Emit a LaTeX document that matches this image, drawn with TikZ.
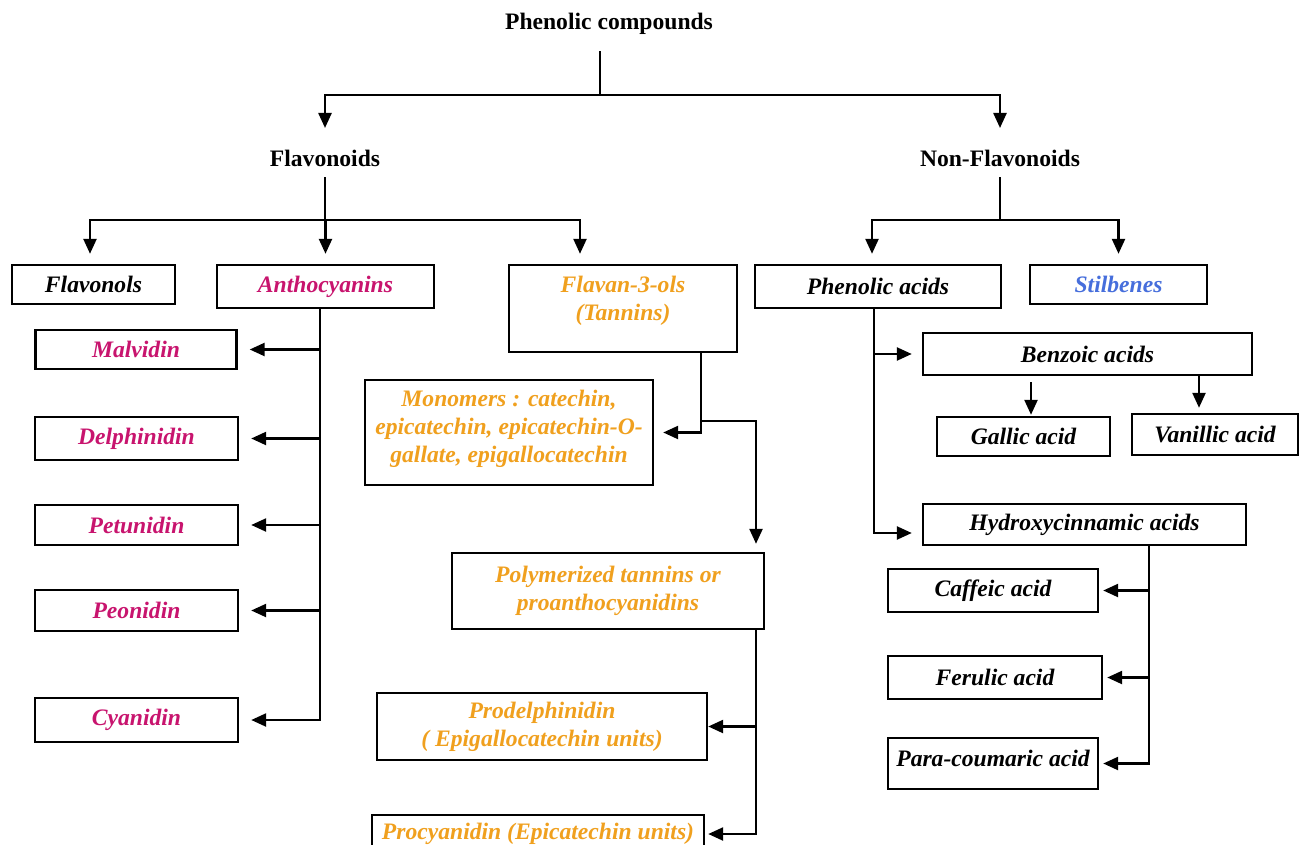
\documentclass[tikz,border=0pt]{standalone}
\usepackage{fontspec}
\setmainfont{Liberation Serif}
\usepackage{tikz}
\usetikzlibrary{arrows.meta}

\definecolor{antho}{RGB}{200,20,110}
\definecolor{tannin}{RGB}{240,160,30}
\definecolor{stilb}{RGB}{70,110,220}

\begin{document}
\begin{tikzpicture}[x=1pt, y=-1pt, line width=2.4pt,
		txt/.style={inner sep=0pt, align=center, font=\fontsize{23.6}{28}\selectfont\bfseries\itshape},
		box/.style={txt, draw=black},
		cat/.style={inner sep=9pt, font=\fontsize{23.6}{28}\selectfont\bfseries},
		arr/.style={-{Triangle[length=15pt, width=13pt]}}]
			\path[clip] (0,0) rectangle (1300,845);
			\fill[white] (0,0) rectangle (1300,845);
			
			% Nodes
			\node[cat] (pc) at (609,24) {Phenolic compounds};
			\node[cat] (fl) at (325,158.5) {Flavonoids};
			\node[cat] (nf) at (1000,158.5) {Non-Flavonoids};
			
			\node[box, minimum width=163pt, minimum height=39pt] (fol) at (93.5,284.5) {Flavonols};
			\node[box, text=antho, minimum width=217pt, minimum height=43pt] (ant) at (325.5,286.5) {Anthocyanins};
			\node[box, minimum width=228pt, minimum height=87pt] (fan) at (623,308.5) {};
			\node[txt, text=tannin] (fant) at (623,301) {Flavan-3-ols\\(Tannins)};
			\node[box, minimum width=246pt, minimum height=43pt] (pa) at (878,286.5) {Phenolic acids};
			\node[box, text=stilb, minimum width=177pt, minimum height=39pt] (sti) at (1118.5,284.5) {Stilbenes};
			
			\node[box, text=antho, minimum width=201pt, minimum height=39pt] (mal) at (136,349.5) {Malvidin};
			\node[box, text=antho, minimum width=203pt, minimum height=43pt] (del) at (136.5,438.5) {Delphinidin};
			\node[box, text=antho, minimum width=203pt, minimum height=40pt] (pet) at (136.5,525) {Petunidin};
			\node[box, text=antho, minimum width=203pt, minimum height=41pt] (peo) at (136.5,610.5) {Peonidin};
			\node[box, text=antho, minimum width=203pt, minimum height=44pt] (cya) at (136.5,720) {Cyanidin};
			
			\node[box, minimum width=288pt, minimum height=105pt] (mon) at (509,432.5) {};
			\node[txt, text=tannin] (mont) at (509,429) {Monomers : catechin,\\epicatechin, epicatechin-O-\\gallate, epigallocatechin};
			\node[box, text=tannin, minimum width=312pt, minimum height=76pt] (pol) at (608,591) {Polymerized tannins or\\proanthocyanidins};
			\node[box, text=tannin, minimum width=330pt, minimum height=67pt] (pro) at (542,726.5) {Prodelphinidin\\( Epigallocatechin units)};
			\node[box, text=tannin, minimum width=332pt, minimum height=38pt] (pcy) at (538,834) {Procyanidin (Epicatechin units)};
			
			\node[box, minimum width=329pt, minimum height=42pt] (ben) at (1087.5,354) {Benzoic acids};
			\node[box, minimum width=173pt, minimum height=39pt] (gal) at (1023.5,436.5) {Gallic acid};
			\node[box, minimum width=166pt, minimum height=41pt] (van) at (1215,434.5) {Vanillic acid};
			\node[box, minimum width=323pt, minimum height=41pt] (hyd) at (1084.5,524.5) {Hydroxycinnamic acids};
			\node[box, minimum width=210pt, minimum height=43pt] (caf) at (993,590.5) {Caffeic acid};
			\node[box, minimum width=214pt, minimum height=43pt] (fer) at (995,677.5) {Ferulic acid};
			\node[box, minimum width=210pt, minimum height=51pt] (par) at (993,763.5) {};
			\node[txt] (part) at (993,758) {Para-coumaric acid};
			
			% Edges
			\coordinate (j0) at (600,95);
			\draw[shorten <=6.5pt] (pc.south -| j0) -- (j0);
			\draw[arr, shorten >=12pt] (j0) -| (fl);
			\draw[arr, shorten >=12pt] (j0) -| (nf);
			
			\coordinate (j1) at (325,220);
			\draw (fl) -- (j1);
			\draw[arr, shorten >=10pt] (j1) -| ([xshift=-3.5pt]fol.north);
			\draw[arr, shorten >=10pt] (j1) -| (ant);
			\draw[arr, shorten >=10pt] (j1) -| ([xshift=-43pt]fan.north);
			
			\coordinate (j2) at (1000,220);
			\draw (nf) -- (j2);
			\draw[arr, shorten >=10pt] (j2) -| ([xshift=-6pt]pa.north);
			\draw[arr, shorten >=10pt] (j2) -| (sti);
			
			\coordinate (ax) at (320,0);
			\draw[arr, shorten >=12pt] (ant.south -| ax) |- (cya);
			\foreach \n in {mal,del,pet,peo}
				\draw[arr, shorten >=12pt] (ax |- \n) -- (\n);
			
			\coordinate (fx) at (701,421);
			\coordinate (px) at (756,0);
			\draw[arr, shorten >=9pt] (fan.south -| fx) |- (mon);
			\draw[arr, shorten >=8pt] (fx) -| (px |- pol.north);
			\draw[arr, shorten >=3pt] (pol.south -| px) |- (pcy);
			\draw[arr] (px |- pro) -- (pro);
			
			\coordinate (ptx) at (874,0);
			\draw[arr, shorten >=10pt] (pa.south -| ptx) |- ([yshift=-8.5pt]hyd.west);
			\draw[arr, shorten >=10pt] (ptx |- ben) -- (ben);
			\coordinate (gx) at ([xshift=7.5pt]gal.north);
			\coordinate (vx) at ([xshift=-16pt]van.north);
			\draw[arr, shorten <=6pt, shorten >=1pt] (gx |- ben.south) -- (gx);
			\draw[arr, shorten >=5pt] (vx |- ben.south) -- (vx);
			
			\coordinate (hx) at (1149,0);
			\draw[arr, shorten >=4pt] (hyd.south -| hx) |- (par);
			\foreach \n in {caf,fer}
				\draw[arr, shorten >=4pt] (hx |- \n) -- (\n);
		\end{tikzpicture}
\end{document}
